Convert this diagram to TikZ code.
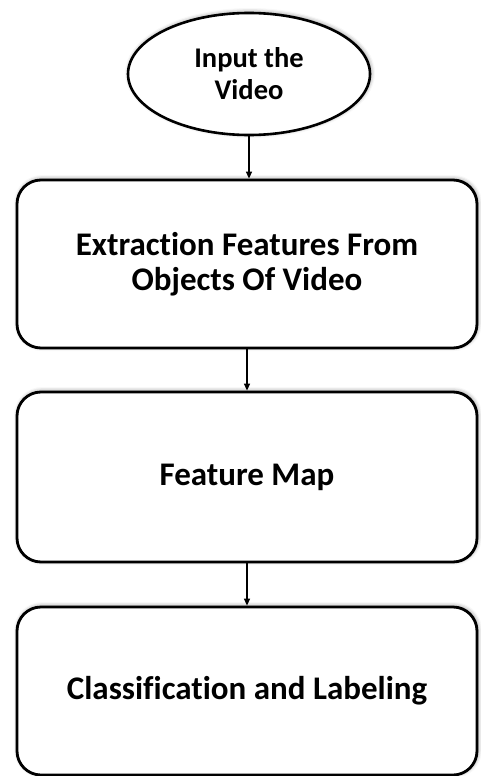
\documentclass[tikz,border=0pt]{standalone}
\usepackage{fontspec}
\setmainfont{Carlito}[Ligatures=NoCommon]
\usetikzlibrary{shapes.geometric,arrows.meta,shadows.blur}
\tikzset{
  shadowed/.style={blur shadow={shadow xshift=1pt,shadow yshift=1pt,shadow blur radius=4pt,shadow opacity=45}},
  stepbox/.style={draw=black,line width=2.8pt,fill=white,rounded corners=24pt,
    minimum width=460pt,minimum height=168pt,align=center,
    font=\fontsize{33pt}{35pt}\selectfont\bfseries,shadowed},
  startnode/.style={ellipse,draw=black,line width=2.6pt,fill=white,
    minimum width=242pt,minimum height=122pt,inner sep=0pt,align=center,
    font=\fontsize{28.5pt}{32pt}\selectfont\bfseries,shadowed},
  flow/.style={draw=black,line width=1.3pt,-{Triangle[length=7pt,width=6pt]}}
}
\begin{document}
\begin{tikzpicture}[x=1pt,y=1pt]
\useasboundingbox (0,0) rectangle (480,-776);
\node[startnode] (in) at (249,-74) {Input the\\Video};
\node[stepbox] (ext) at (247,-264) {Extraction Features From\\Objects Of Video};
\node[stepbox,minimum height=170pt] (map) at (247,-477) {Feature Map};
\node[stepbox] (cls) at (247,-691) {Classification and Labeling};
\draw[flow] (in.south) -- (in.south |- ext.north);
\draw[flow] (ext.south) -- (map.north);
\draw[flow] (map.south) -- (cls.north);
\end{tikzpicture}
\end{document}
